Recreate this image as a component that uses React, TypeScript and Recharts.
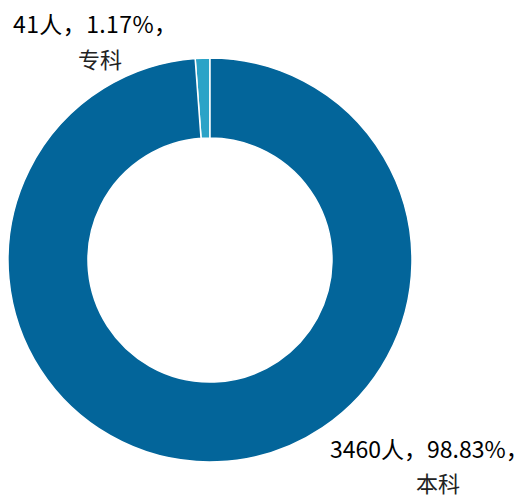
import { PieChart, Pie, Cell } from "recharts"

// 学历层次分布
const categories = ["专科", "本科"]
const counts = [41, 3460]
const percents = ["1.17%", "98.83%"]
const colors = ["#2ba3c7", "#03659a"]

const data = categories.map((name, i) => ({ name, value: counts[i], pct: percents[i] }))

const FONT = "'Noto Sans CJK SC', 'Noto Sans', sans-serif"

const renderLabel = (props: any) => {
  const { cx, cy, outerRadius, index } = props
  const d = data[index]
  const line1 = `${d.value}人，${d.pct}，`
  // top-left for the small slice, bottom-right for the big one
  const top = index === 0
  const x1 = top ? cx - 197 : cx + 120
  const y1 = top ? cy - outerRadius - 25 : cy + outerRadius - 4
  const x2 = top ? cx - 110 : cx + 228
  const y2 = y1 + (top ? 35 : 34)
  return (
    <g>
      <text x={x1} y={y1} fill="#000" fontSize={23} letterSpacing={top ? 0.4 : 0} fontFamily={FONT} textAnchor="start">
        {line1}
      </text>
      <text x={x2} y={y2} fill="#222" fontSize={22} fontFamily={FONT} textAnchor="middle">
        {d.name}
      </text>
    </g>
  )
}

export default function App() {
  return (
    <div style={{ position: "absolute", left: 0, top: 0, background: "#fff" }}>
      <PieChart width={531} height={500} margin={{ top: 0, right: 0, bottom: 0, left: 0 }}>
        <Pie
          data={data}
          dataKey="value"
          nameKey="name"
          cx={210}
          cy={260}
          innerRadius={122}
          outerRadius={202}
          startAngle={90}
          endAngle={450}
          stroke="#fff"
          strokeWidth={1.5}
          label={renderLabel}
          labelLine={false}
          isAnimationActive={false}
        >
          {data.map((d, i) => (
            <Cell key={d.name} fill={colors[i]} />
          ))}
        </Pie>
      </PieChart>
    </div>
  )
}
